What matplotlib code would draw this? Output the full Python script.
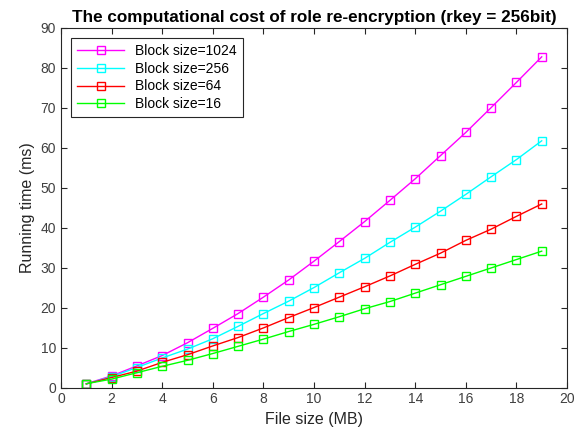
import matplotlib
matplotlib.use("Agg")
import matplotlib.pyplot as plt

plt.rcParams['font.family'] = ['Liberation Sans', 'DejaVu Sans']

# file size (MB)
file_size = list(range(1, 20))

# running time (ms) per block size
time_1024 = [0.95, 2.9, 5.4, 8.0, 11.2, 14.8, 18.5, 22.6, 26.9, 31.6,
             36.5, 41.5, 46.8, 52.2, 58.0, 63.8, 70.0, 76.3, 82.7]
time_256 = [0.9, 2.7, 5.0, 7.4, 9.6, 12.2, 15.3, 18.5, 21.6, 25.0,
            28.7, 32.3, 36.3, 40.1, 44.1, 48.3, 52.7, 57.0, 61.7]
time_64 = [0.9, 2.5, 4.1, 6.3, 8.2, 10.4, 12.5, 14.9, 17.5, 20.0,
           22.6, 25.2, 27.9, 30.8, 33.6, 36.8, 39.6, 42.8, 45.9]
time_16 = [0.95, 2.1, 3.7, 5.3, 6.8, 8.5, 10.3, 12.1, 14.0, 15.8,
           17.7, 19.7, 21.5, 23.6, 25.7, 27.8, 29.9, 32.0, 34.1]

series = [
    ("Block size=1024", time_1024, "#ff00ff"),
    ("Block size=256", time_256, "#00ffff"),
    ("Block size=64", time_64, "#ff0000"),
    ("Block size=16", time_16, "#00ff00"),
]

fig = plt.figure(figsize=(5.79, 4.32), dpi=100)
ax = fig.add_axes([0.1054, 0.103, 0.8739, 0.833])

for label, vals, col in series:
    ax.plot(file_size, vals, color=col, marker="s", markersize=5.5,
            markerfacecolor="none", markeredgecolor=col, linewidth=1,
            label=label)

ax.set_xlim(0, 20)
ax.set_ylim(0, 90)
ax.set_xticks(range(0, 21, 2))
ax.set_yticks(range(0, 91, 10))
ax.tick_params(direction="in", top=True, right=True, labelsize=10,
               length=4, colors="#262626", labelcolor="#404040")
for sp in ax.spines.values():
    sp.set_color("#262626")
    sp.set_linewidth(0.8)

ax.set_xlabel("File size (MB)", fontsize=11.5, color="#262626")
ax.set_ylabel("Running time (ms)", fontsize=11.5, color="#262626")
ax.set_title("The computational cost of role re-encryption (rkey = 256bit)",
             fontsize=12.3, fontweight="bold", pad=4)

leg = ax.legend(loc="upper left", fontsize=10, fancybox=False,
                edgecolor="#262626", framealpha=1, borderaxespad=0.75,
                handlelength=3.4, labelspacing=0.28, borderpad=0.4,
                markerscale=1.1)
leg.get_frame().set_linewidth(0.8)

fig.savefig("out.png", dpi=100)
